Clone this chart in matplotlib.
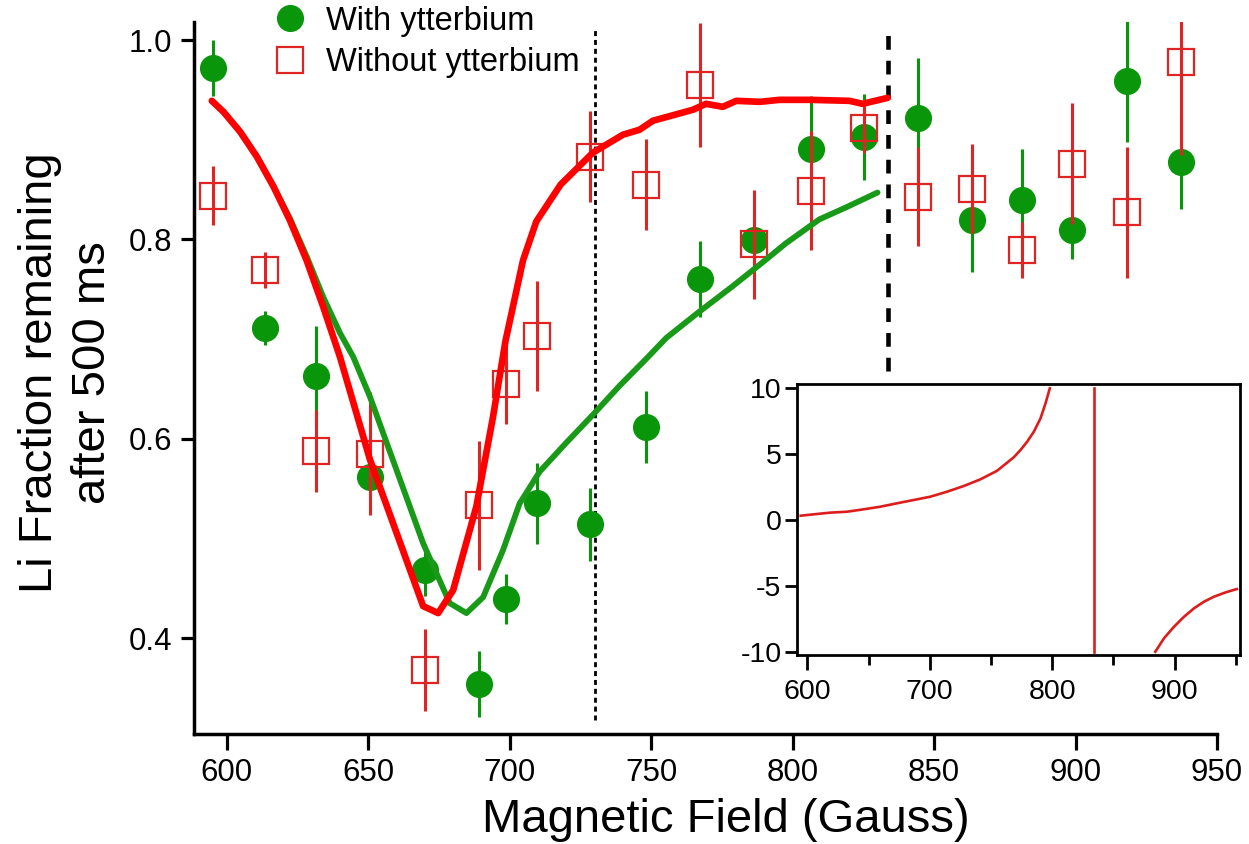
import matplotlib
matplotlib.use('Agg')
import matplotlib.pyplot as plt
from matplotlib.lines import Line2D

plt.rcParams['font.family'] = ['Liberation Sans', 'DejaVu Sans']
plt.rcParams['axes.unicode_minus'] = False

# ---------------- data ----------------
field = [595.0, 613.5, 631.5, 650.7, 670.1, 689.3, 698.7, 709.7, 728.4, 748.2,
         767.3, 786.4, 806.6, 825.3, 844.4, 863.5, 881.2, 898.8, 918.3, 937.4]
with_yb = [0.972, 0.711, 0.663, 0.562, 0.468, 0.354, 0.439, 0.535, 0.514, 0.612,
           0.760, 0.799, 0.891, 0.903, 0.922, 0.819, 0.839, 0.809, 0.959, 0.878]
with_yb_err = [0.028, 0.017, 0.050, 0.021, 0.026, 0.033, 0.025, 0.041, 0.037, 0.036,
               0.038, 0.030, 0.053, 0.043, 0.060, 0.052, 0.052, 0.029, 0.061, 0.048]
without_yb = [0.844, 0.769, 0.588, 0.585, 0.368, 0.533, 0.655, 0.703, 0.883, 0.855,
              0.955, 0.795, 0.849, 0.912, 0.843, 0.851, 0.789, 0.876, 0.827, 0.978]
without_yb_err = [0.030, 0.018, 0.041, 0.062, 0.041, 0.065, 0.040, 0.055, 0.046, 0.046,
                  0.062, 0.055, 0.060, 0.025, 0.050, 0.045, 0.028, 0.061, 0.066, 0.093]

red_fit_x = [594.7, 598.8, 604.7, 610.6, 616.5, 622.3, 628.2, 634.1, 640.0, 650.6,
             669.4, 674.7, 680.0, 688.2, 694.1, 698.5, 704.7, 709.4, 718.0, 729.4,
             740.0, 745.9, 750.6, 764.7, 769.4, 775.3, 780.1, 788.4, 795.4, 806.0,
             820.1, 824.7, 833.6]
red_fit_y = [0.939, 0.928, 0.908, 0.883, 0.853, 0.819, 0.779, 0.732, 0.682, 0.579,
             0.432, 0.425, 0.448, 0.532, 0.622, 0.698, 0.779, 0.818, 0.855, 0.887,
             0.905, 0.910, 0.919, 0.930, 0.936, 0.933, 0.939, 0.938, 0.940, 0.940,
             0.939, 0.936, 0.942]

green_fit_x = [594.7, 598.8, 604.7, 610.6, 616.5, 622.3, 628.2, 634.1, 640.0, 644.7,
               650.6, 669.4, 678.8, 684.7, 690.6, 697.6, 703.5, 710.6, 720.0, 729.4,
               738.8, 748.2, 755.3, 765.9, 778.8, 789.4, 797.6, 809.4, 818.8, 830.0]
green_fit_y = [0.939, 0.928, 0.908, 0.883, 0.853, 0.821, 0.783, 0.742, 0.706, 0.682,
               0.642, 0.495, 0.435, 0.425, 0.441, 0.488, 0.535, 0.567, 0.596, 0.624,
               0.653, 0.680, 0.701, 0.725, 0.753, 0.777, 0.796, 0.820, 0.832, 0.847]

# inset: scattering length branches either side of the pole
inset_x_low = [594.6, 604.9, 618.6, 632.3, 645.8, 659.5, 673.2, 686.8, 700.4, 714.1,
               727.7, 741.4, 755.0, 768.6, 774.1, 779.6, 785.0, 790.5, 794.6, 798.1]
inset_y_low = [0.33, 0.43, 0.56, 0.63, 0.81, 1.01, 1.27, 1.52, 1.77, 2.15,
               2.58, 3.09, 3.74, 4.76, 5.31, 5.95, 6.70, 7.72, 8.86, 10.0]
inset_x_high = [884.3, 891.4, 899.6, 907.8, 916.0, 924.1, 932.3, 941.9, 950.9]
inset_y_high = [-10.0, -8.98, -8.1, -7.34, -6.7, -6.2, -5.82, -5.49, -5.24]
inset_pole = 834.1

dotted_x = 730.1
dashed_x = 833.7

x_ticks = [600, 650, 700, 750, 800, 850, 900, 950]
y_ticks = [0.4, 0.6, 0.8, 1.0]
inset_x_major = [600, 700, 800, 900]
inset_x_minor = [650, 750, 850, 950]
inset_y_ticks = [-10, -5, 0, 5, 10]

# ---------------- style ----------------
GREEN = '#0a960a'
GREEN_LINE = '#189a18'
RED = '#e02424'
RED_LINE = '#ff0000'
W, H = 1249, 844

fig = plt.figure(figsize=(W / 100, H / 100), dpi=100)
ax = fig.add_axes([194 / W, (H - 734) / H, (1217 - 194) / W, (734 - 22) / H])

ax.errorbar(field, with_yb, yerr=with_yb_err, fmt='o', color=GREEN, ms=18.5,
            elinewidth=2.2, capsize=0, zorder=3)
ax.errorbar(field, without_yb, yerr=without_yb_err, fmt='s', color=RED, mfc='none',
            mec=RED, mew=1.6, ms=18.5, elinewidth=2.2, capsize=0, zorder=4)

ax.plot(green_fit_x, green_fit_y, color=GREEN_LINE, lw=4.2, zorder=5,
        solid_joinstyle='round', solid_capstyle='round')
ax.plot(red_fit_x, red_fit_y, color=RED_LINE, lw=4.8, zorder=6,
        solid_joinstyle='round', solid_capstyle='round')

ax.plot([dotted_x, dotted_x], [0.318, 1.010], color='k', lw=2.0,
        ls=(0, (1.8, 1.4)), zorder=2)
ax.plot([dashed_x, dashed_x], [0.668, 1.013], color='k', lw=3.3,
        ls=(0, (3.0, 2.4)), zorder=2)

ax.set_xlim(588.4, 950)
ax.set_ylim(0.3037, 1.0181)
ax.set_xticks(x_ticks)
ax.set_yticks(y_ticks)
ax.set_yticklabels(['%.1f' % v for v in y_ticks])
for s in ['top', 'right']:
    ax.spines[s].set_visible(False)
for s in ['left', 'bottom']:
    ax.spines[s].set_linewidth(2.5)
ax.tick_params(axis='x', direction='out', length=11.5, width=2.3, labelsize=22.5, pad=6)
ax.tick_params(axis='y', direction='out', length=9.5, width=2.3, labelsize=22.5, pad=6)

handles = [Line2D([], [], ls='none', marker='o', color=GREEN, ms=18.5),
           Line2D([], [], ls='none', marker='s', mfc='none', mec=RED, mew=1.6, ms=18.5)]
ax.legend(handles, ['With ytterbium', 'Without ytterbium'], loc='upper left',
          bbox_to_anchor=(273.7 / W, 1 - 5.9 / H), bbox_transform=fig.transFigure,
          frameon=False, fontsize=23.5, handlelength=1.0, handletextpad=0.6,
          labelspacing=0.32, borderpad=0, borderaxespad=0)

fig.text(40 / W, 1 - 373 / H, 'Li Fraction remaining', rotation=90, ha='center',
         va='center', fontsize=34)
fig.text(93 / W, 1 - 373 / H, 'after 500 ms', rotation=90, ha='center',
         va='center', fontsize=34)
fig.text(725.5 / W, (H - 832) / H, 'Magnetic Field (Gauss)', ha='center',
         va='baseline', fontsize=34)

# ---------------- inset ----------------
axi = fig.add_axes([796.7 / W, (H - 655) / H, (1240 - 796.7) / W, (655 - 384) / H])
axi.set_facecolor('white')
axi.set_zorder(10)
INSET_RED = '#dd1c1c'
axi.plot(inset_x_low, inset_y_low, color=INSET_RED, lw=1.9, solid_joinstyle='round')
axi.plot(inset_x_high, inset_y_high, color=INSET_RED, lw=1.9, solid_joinstyle='round')
axi.plot([inset_pole, inset_pole], [-10, 10], color=INSET_RED, lw=1.9)
axi.set_xlim(591.3, 953.5)
axi.set_ylim(-10.25, 10.33)
axi.set_xticks(inset_x_major)
axi.set_xticks(inset_x_minor, minor=True)
axi.set_yticks(inset_y_ticks)
for s in axi.spines.values():
    s.set_linewidth(2.0)
axi.tick_params(axis='x', which='major', direction='out', length=11, width=2.0,
                labelsize=20.5, pad=6)
axi.tick_params(axis='x', which='minor', direction='out', length=7, width=2.0)
axi.tick_params(axis='y', direction='out', length=9, width=2.0, labelsize=20.5, pad=2)

fig.savefig('out.png', dpi=100)
